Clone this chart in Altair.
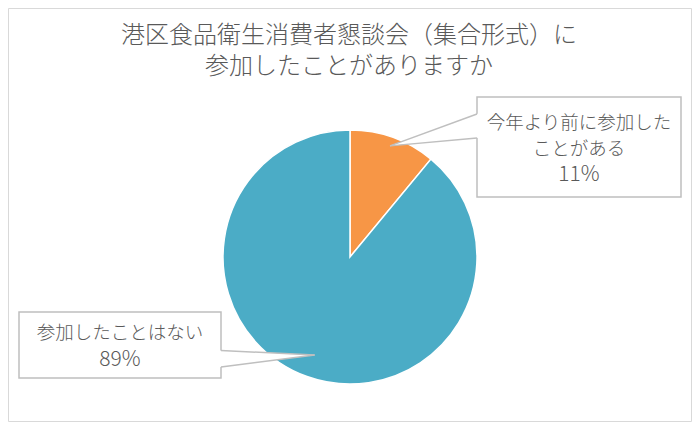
import math
import altair as alt
import pandas as pd

# ---- data ----
categories = ["今年より前に参加したことがある", "参加したことはない"]
values = [11, 89]
colors = ["#F79646", "#4BACC6"]
label_text_lines = [["今年より前に参加した", "ことがある"], ["参加したことはない"]]
title_lines = ["港区食品衛生消費者懇談会（集合形式）に", "参加したことがありますか"]

# ---- layout (pixels, chart coordinates) ----
W, H = 684, 414
CX, CY, R = 342, 249, 127
FONT = "Noto Sans CJK JP"
TEXT_COLOR = "#595959"
BOX_STROKE = "#BFBFBF"
title_pos = [(341, 28), (341, 59)]
callouts = [
    dict(x1=469, y1=89, x2=673, y2=189, edge_x=469, ey1=106, ey2=130, rfrac=0.93,
         tx=571, line_y=[115, 141, 167]),
    dict(x1=11, y1=304, x2=213, y2=370, edge_x=213, ey1=342.5, ey2=359, rfrac=0.82,
         tx=112, line_y=[325, 352]),
]

# pie data
pie_df = pd.DataFrame({"category": categories, "value": values, "order": list(range(len(values)))})

# callout tips from slice mid-angles
total = sum(values)
cum = 0
tips = []
for v, c in zip(values, callouts):
    mid = (cum + v / 2) / total * 2 * math.pi
    r = c["rfrac"] * R
    tips.append((CX + r * math.sin(mid), CY - r * math.cos(mid)))
    cum += v

box_rows, area_rows, line_rows, text_rows = [], [], [], []
for i, (c, (tx_, ty_)) in enumerate(zip(callouts, tips)):
    box_rows.append(dict(x1=c["x1"], y1=c["y1"], x2=c["x2"], y2=c["y2"]))
    ex = c["edge_x"]
    d = 1 if ex > tx_ else -1
    ext = ex + 2 * d
    ya = c["ey1"] + (c["ey1"] - ty_) / (ex - tx_) * (ext - ex)
    yb = c["ey2"] + (c["ey2"] - ty_) / (ex - tx_) * (ext - ex)
    area_rows += [dict(g=i, x=tx_, y=ty_, y2=ty_), dict(g=i, x=ext, y=ya, y2=yb)]
    line_rows += [dict(g=f"{i}a", x=ex, y=c["ey1"]), dict(g=f"{i}a", x=tx_, y=ty_),
                  dict(g=f"{i}b", x=ex, y=c["ey2"]), dict(g=f"{i}b", x=tx_, y=ty_)]
    lines = label_text_lines[i] + [f"{values[i]}%"]
    for k, (ln, yy) in enumerate(zip(lines, c["line_y"])):
        text_rows.append(dict(x=c["tx"], y=yy, text=ln, size=21 if k == len(lines) - 1 else 18.5))

title_df = pd.DataFrame([dict(x=x, y=y, text=t) for t, (x, y) in zip(title_lines, title_pos)])
box_df = pd.DataFrame(box_rows)
area_df = pd.DataFrame(area_rows)
line_df = pd.DataFrame(line_rows)
text_df = pd.DataFrame(text_rows)

X = lambda f: alt.X(f, scale=None, axis=None)
Y = lambda f: alt.Y(f, scale=None, axis=None)

border = alt.Chart(pd.DataFrame({"a": [0]})).mark_rect(
    fill="white", stroke="#D9D9D9", strokeWidth=1
).encode(x=alt.value(0.5), x2=alt.value(W - 0.5), y=alt.value(0.5), y2=alt.value(H - 0.5))

title = alt.Chart(title_df).mark_text(
    font=FONT, fontSize=24, fontWeight=300, color=TEXT_COLOR, align="center", baseline="middle"
).encode(x=X("x:Q"), y=Y("y:Q"), text="text:N")

pie = alt.Chart(pie_df).mark_arc(outerRadius=R, stroke="white", strokeWidth=1.5).encode(
    theta=alt.Theta("value:Q", stack=True),
    color=alt.Color("category:N", scale=alt.Scale(domain=categories, range=colors), legend=None),
    order=alt.Order("order:Q"),
    x=alt.value(CX),
    y=alt.value(CY),
)

boxes = alt.Chart(box_df).mark_rect(fill="white", stroke=BOX_STROKE, strokeWidth=1.5).encode(
    x=X("x1:Q"), x2="x2:Q", y=Y("y1:Q"), y2="y2:Q"
)

wedges = alt.Chart(area_df).mark_area(fill="white", orient="vertical").encode(
    x=X("x:Q"), y=Y("y:Q"), y2="y2:Q", detail="g:N"
)

wedge_lines = alt.Chart(line_df).mark_line(stroke=BOX_STROKE, strokeWidth=1.5).encode(
    x=X("x:Q"), y=Y("y:Q"), detail="g:N"
)

labels = alt.Chart(text_df).mark_text(
    font=FONT, fontWeight=300, color=TEXT_COLOR, align="center", baseline="middle"
).encode(x=X("x:Q"), y=Y("y:Q"), text="text:N", size=alt.Size("size:Q", scale=None, legend=None))

chart = alt.layer(border, title, pie, boxes, wedges, wedge_lines, labels).properties(
    width=W, height=H, padding=0, autosize=alt.AutoSizeParams(type="none")
).configure_view(strokeWidth=0)

chart.save("out.html", embed_options={"renderer": "svg", "actions": False})
